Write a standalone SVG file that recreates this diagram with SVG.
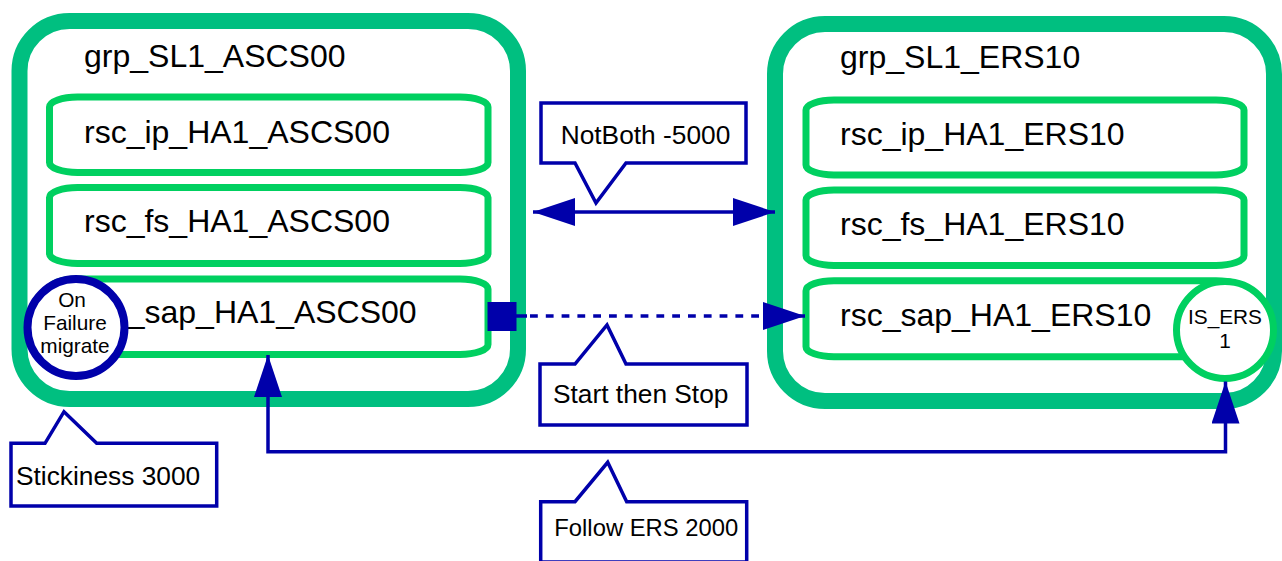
<svg xmlns="http://www.w3.org/2000/svg" width="1282" height="561" viewBox="0 0 1282 561">
<style>
.grp{fill:#fff;stroke:#00BF80;stroke-width:16}
.rsc{fill:#fff;stroke:#00D060;stroke-width:7}
.lbl{font-family:"Liberation Sans",Arial,sans-serif;font-size:32px;fill:#000}
.small{font-family:"Liberation Sans",Arial,sans-serif;font-size:20.8px;fill:#000;text-anchor:middle}
.call{fill:#fff;stroke:#0000AA;stroke-width:3.5;stroke-linejoin:miter}
.ctext{font-family:"Liberation Sans",Arial,sans-serif;font-size:26.3px;fill:#000}
.conn{fill:none;stroke:#0000AA;stroke-width:3.5}
</style>
<defs>
<marker id="ah" viewBox="0 0 42 28" refX="42" refY="14" markerWidth="42" markerHeight="28" markerUnits="userSpaceOnUse" orient="auto-start-reverse">
<path d="M0,0 L42,14 L0,28 Z" fill="#0000AA"/>
</marker>
</defs>
<g id="grp_SL1_ASCS00">
<rect class="grp" x="19.5" y="21" width="498.5" height="378" rx="50" ry="50"/>
<text class="lbl" x="84" y="67">grp_SL1_ASCS00</text>
</g>
<g id="rsc_ip_HA1_ASCS00">
<rect class="rsc" x="49.5" y="97" width="438.5" height="75.5" rx="28" ry="10"/>
<text class="lbl" x="84" y="143.3">rsc_ip_HA1_ASCS00</text>
</g>
<g id="rsc_fs_HA1_ASCS00">
<rect class="rsc" x="49.5" y="187.5" width="438.5" height="76" rx="28" ry="10"/>
<text class="lbl" x="84" y="232.3">rsc_fs_HA1_ASCS00</text>
</g>
<g id="rsc_sap_HA1_ASCS00">
<rect class="rsc" x="49.5" y="279" width="438.5" height="75.5" rx="28" ry="10"/>
<text class="lbl" x="126.7" y="323.3">_sap_HA1_ASCS00</text>
</g>
<g id="on_failure">
<circle cx="76" cy="327.5" r="48.5" fill="#fff" stroke="#0000AA" stroke-width="8"/>
<text class="small" x="72" y="307">On</text>
<text class="small" x="75" y="330">Failure</text>
<text class="small" x="75" y="352.5">migrate</text>
</g>
<g id="grp_SL1_ERS10">
<rect class="grp" x="775" y="24" width="499" height="377" rx="50" ry="50"/>
<text class="lbl" x="840" y="68">grp_SL1_ERS10</text>
</g>
<g id="rsc_ip_HA1_ERS10">
<rect class="rsc" x="806" y="100" width="438" height="75" rx="28" ry="10"/>
<text class="lbl" x="840" y="145">rsc_ip_HA1_ERS10</text>
</g>
<g id="rsc_fs_HA1_ERS10">
<rect class="rsc" x="806" y="190" width="438" height="75.5" rx="28" ry="10"/>
<text class="lbl" x="840" y="235">rsc_fs_HA1_ERS10</text>
</g>
<g id="rsc_sap_HA1_ERS10">
<rect class="rsc" x="806" y="280.7" width="438" height="76" rx="28" ry="10"/>
<text class="lbl" x="840" y="326">rsc_sap_HA1_ERS10</text>
</g>
<g id="is_ers">
<circle cx="1225" cy="330" r="48.5" fill="#fff" stroke="#00D060" stroke-width="7"/>
<text class="small" x="1225" y="324">IS_ERS</text>
<text class="small" x="1225" y="347.5">1</text>
</g>
<g id="connectors">
<line class="conn" x1="533" y1="212" x2="775" y2="212" marker-start="url(#ah)" marker-end="url(#ah)"/>
<rect x="487.5" y="302" width="29" height="29" fill="#0000AA"/>
<line class="conn" x1="516" y1="316" x2="527" y2="316"/>
<line class="conn" x1="530" y1="316" x2="805" y2="316" stroke-dasharray="7.8 8" marker-end="url(#ah)"/>
<polyline class="conn" points="1225.5,381.5 1225.5,451.7 268,451.7 268,355" marker-start="url(#ah)" marker-end="url(#ah)"/>
</g>
<g id="callout_notboth">
<path class="call" d="M541,103 H746 V163 H626 L596,203 L575,163 H541 Z"/>
<text class="ctext" x="560.7" y="144">NotBoth -5000</text>
</g>
<g id="callout_start_stop">
<path class="call" d="M540,364 H575 L607,325 L626,364 H747 V425 H540 Z"/>
<text class="ctext" x="553" y="402.7">Start then Stop</text>
</g>
<g id="callout_stickiness">
<path class="call" d="M11,443.3 H45 L64,411.7 L96.7,443.3 H216.7 V506 H11 Z"/>
<text class="ctext" x="16" y="485">Stickiness 3000</text>
</g>
<g id="callout_follow">
<path class="call" d="M540.7,501.7 H575 L607.7,462.3 L626.7,501.7 H746.7 V562 H540.7 Z"/>
<text class="ctext" x="554.3" y="536" style="font-size:23.8px">Follow ERS 2000</text>
</g>
</svg>
